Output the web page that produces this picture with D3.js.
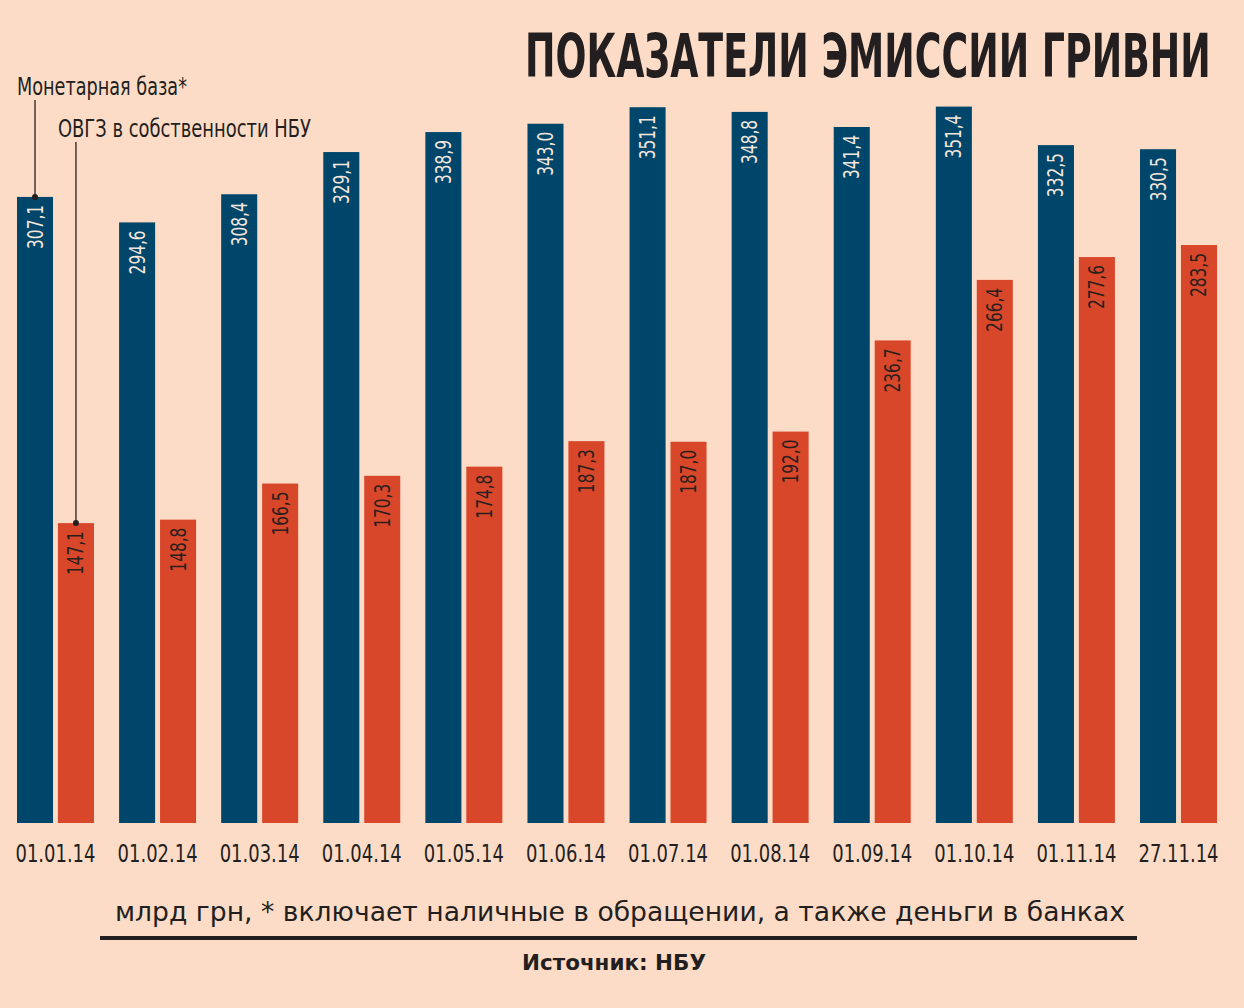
<!DOCTYPE html>
<html>
<head>
<meta charset="utf-8">
<script src="https://cdn.jsdelivr.net/npm/d3@7"></script>
<style>
  html, body { margin: 0; padding: 0; background: #fcdcc6; }
  svg { display: block; }
  text { font-family: "Liberation Sans Narrow", "DejaVu Sans Condensed", "Liberation Sans", sans-serif; }
</style>
</head>
<body>
<script>
// данные
const dates = ["01.01.14", "01.02.14", "01.03.14", "01.04.14", "01.05.14", "01.06.14",
               "01.07.14", "01.08.14", "01.09.14", "01.10.14", "01.11.14", "27.11.14"];
const monetaryBase = [307.1, 294.6, 308.4, 329.1, 338.9, 343.0, 351.1, 348.8, 341.4, 351.4, 332.5, 330.5];
const ovgz = [147.1, 148.8, 166.5, 170.3, 174.8, 187.3, 187.0, 192.0, 236.7, 266.4, 277.6, 283.5];
const seriesNames = ["Монетарная база*", "ОВГЗ в собственности НБУ"];

const width = 1244, height = 1008;
const colors = ["#00456a", "#d9472b"];
const labelColors = ["#f4e6da", "#2a1f1c"];

const svg = d3.select("body").append("svg")
  .attr("width", width)
  .attr("height", height);

svg.append("rect").attr("width", width).attr("height", height).attr("fill", "#fcdcc6");

const x0 = d3.scaleBand()
  .domain(dates)
  .range([17, 1217])
  .paddingInner(0.246)
  .paddingOuter(0);

const x1 = d3.scaleBand()
  .domain([0, 1])
  .range([0, x0.bandwidth()])
  .paddingInner(0.12);

const y = d3.scaleLinear()
  .domain([0, 400])
  .range([823, 823 - 400 * 2.0387]);

const rows = dates.map((d, i) => ({ date: d, values: [monetaryBase[i], ovgz[i]] }));

const groups = svg.selectAll("g.grp")
  .data(rows)
  .enter().append("g")
  .attr("class", "grp")
  .attr("transform", d => `translate(${x0(d.date)},0)`);

groups.selectAll("rect")
  .data(d => d.values.map((v, k) => ({ k, v })))
  .enter().append("rect")
  .attr("x", d => x1(d.k))
  .attr("y", d => y(d.v))
  .attr("width", x1.bandwidth())
  .attr("height", d => y(0) - y(d.v))
  .attr("fill", d => colors[d.k]);

groups.selectAll("text.val")
  .data(d => d.values.map((v, k) => ({ k, v })))
  .enter().append("text")
  .attr("class", "val")
  .attr("transform", d => `translate(${x1(d.k) + x1.bandwidth() / 2 + 7.5},${y(d.v) + 8}) rotate(-90)`)
  .attr("text-anchor", "end")
  .attr("font-size", 21)
  .attr("fill", d => labelColors[d.k])
  .attr("textLength", 44)
  .attr("lengthAdjust", "spacingAndGlyphs")
  .text(d => d.v.toFixed(1).replace(".", ","));

// подписи дат
svg.append("g").selectAll("text")
  .data(dates)
  .enter().append("text")
  .attr("x", d => x0(d) + x0.bandwidth() / 2)
  .attr("y", 862)
  .attr("text-anchor", "middle")
  .attr("font-size", 25)
  .attr("fill", "#231f20")
  .attr("textLength", 80)
  .attr("lengthAdjust", "spacingAndGlyphs")
  .text(d => d);

// заголовок: сжимаем по ширине через transform
const title = svg.append("text")
  .attr("font-size", 60)
  .attr("font-weight", "bold")
  .attr("fill", "#231f20")
  .text("ПОКАЗАТЕЛИ ЭМИССИИ ГРИВНИ");
const tw = title.node().getComputedTextLength();
title.attr("transform", `translate(525,77) scale(${686 / tw},1)`);

// легенда с выносками
const legendY = [95, 137];
const legendW = [170, 253];
seriesNames.forEach((name, k) => {
  const bx = x0(dates[0]) + x1(k) + x1.bandwidth() / 2;
  const top = y(k === 0 ? monetaryBase[0] : ovgz[0]);
  svg.append("text")
    .attr("x", x0(dates[0]) + x1(k))
    .attr("y", legendY[k])
    .attr("font-size", 24)
    .attr("fill", "#231f20")
    .attr("textLength", legendW[k])
    .attr("lengthAdjust", "spacingAndGlyphs")
    .text(name);
  svg.append("line")
    .attr("x1", bx).attr("x2", bx)
    .attr("y1", legendY[k] + 5).attr("y2", top)
    .attr("stroke", "#231f20").attr("stroke-width", 1.3);
  svg.append("circle")
    .attr("cx", bx).attr("cy", top).attr("r", 3)
    .attr("fill", "#231f20");
});

// примечание и источник
svg.append("text")
  .attr("x", 620)
  .attr("y", 921)
  .attr("text-anchor", "middle")
  .attr("font-size", 27)
  .attr("fill", "#231f20")
  .attr("textLength", 1010)
  .attr("lengthAdjust", "spacingAndGlyphs")
  .style("font-family", "'DejaVu Sans', sans-serif")
  .text("млрд грн, * включает наличные в обращении, а также деньги в банках");

svg.append("line")
  .attr("x1", 100).attr("x2", 1137)
  .attr("y1", 938).attr("y2", 938)
  .attr("stroke", "#231f20").attr("stroke-width", 4);

svg.append("text")
  .attr("x", 614)
  .attr("y", 970)
  .attr("text-anchor", "middle")
  .attr("font-size", 22)
  .attr("font-weight", "bold")
  .attr("fill", "#231f20")
  .attr("textLength", 184)
  .attr("lengthAdjust", "spacingAndGlyphs")
  .style("font-family", "'DejaVu Sans', sans-serif")
  .text("Источник: НБУ");
</script>
</body>
</html>
